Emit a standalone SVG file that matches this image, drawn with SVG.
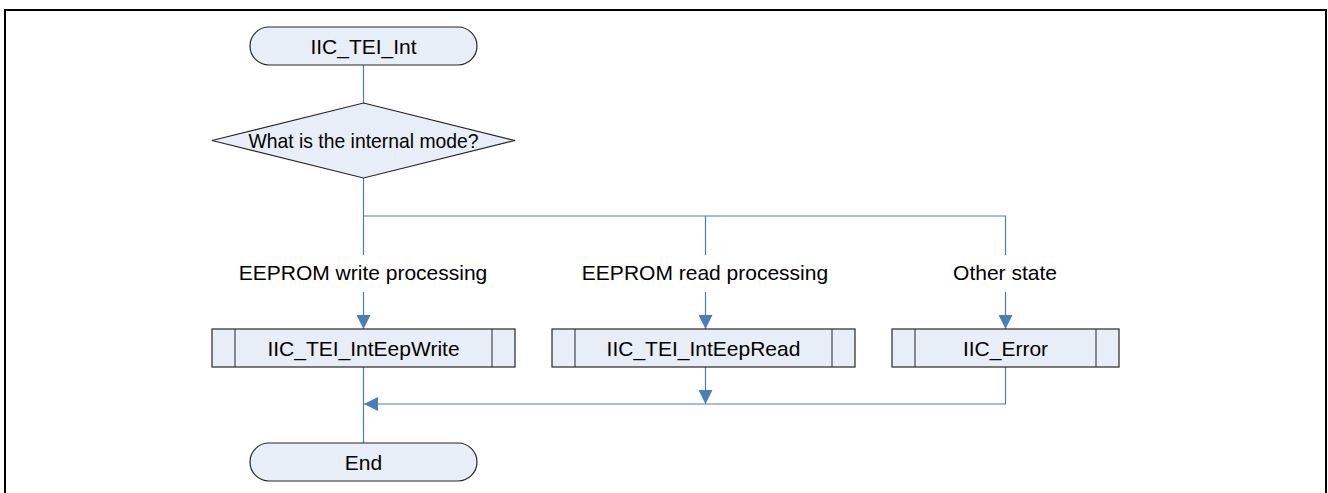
<svg xmlns="http://www.w3.org/2000/svg" width="1328" height="493" viewBox="0 0 1328 493">
<style>
.node{fill:#E8EEF7;stroke:#262626;stroke-width:1.2}
.bar{fill:none;stroke:#262626;stroke-width:1}
.conn{fill:none;stroke:#4A7EBB;stroke-width:1.2}
text{font-family:"Liberation Sans",Arial,sans-serif;font-size:21px;fill:#000;text-anchor:middle;dominant-baseline:central}
</style>
<defs>
<marker id="arr" viewBox="0 0 10 10" refX="10" refY="5" markerWidth="14" markerHeight="14" markerUnits="userSpaceOnUse" orient="auto">
<path d="M0,0 L10,5 L0,10 Z" fill="#4A7EBB"/>
</marker>
</defs>
<rect x="5" y="10" width="1321" height="500" fill="#fff" stroke="#000" stroke-width="2"/>
<g id="connectors">
<line class="conn" x1="363.5" y1="65" x2="363.5" y2="103"/>
<line class="conn" x1="363.5" y1="178" x2="363.5" y2="255"/>
<polyline class="conn" points="363.5,216 1005.5,216 1005.5,255"/>
<line class="conn" x1="705.5" y1="216" x2="705.5" y2="255"/>
<line class="conn" x1="363.5" y1="292" x2="363.5" y2="329" marker-end="url(#arr)"/>
<line class="conn" x1="705.5" y1="292" x2="705.5" y2="329" marker-end="url(#arr)"/>
<line class="conn" x1="1005.5" y1="292" x2="1005.5" y2="329" marker-end="url(#arr)"/>
<line class="conn" x1="363.5" y1="367" x2="363.5" y2="443"/>
<line class="conn" x1="705.5" y1="367" x2="705.5" y2="404" marker-end="url(#arr)"/>
<polyline class="conn" points="1005.5,367 1005.5,404 364,404" marker-end="url(#arr)"/>
<text x="363" y="272">EEPROM write processing</text>
<text x="705" y="272">EEPROM read processing</text>
<text x="1005" y="272">Other state</text>
</g>
<g id="start">
<rect class="node" x="250" y="27" width="227" height="38" rx="19" ry="19"/>
<text x="363.5" y="46">IIC_TEI_Int</text>
</g>
<g id="decision">
<polygon class="node" points="363.5,103 515,140.5 363.5,178 212,140.5"/>
<text x="363.5" y="140.5" textLength="230" lengthAdjust="spacingAndGlyphs">What is the internal mode?</text>
</g>
<g id="write">
<rect class="node" x="212" y="329" width="303" height="38"/>
<line class="bar" x1="235" y1="329" x2="235" y2="367"/>
<line class="bar" x1="492" y1="329" x2="492" y2="367"/>
<text x="363.5" y="348">IIC_TEI_IntEepWrite</text>
</g>
<g id="read">
<rect class="node" x="552" y="329" width="303" height="38"/>
<line class="bar" x1="575" y1="329" x2="575" y2="367"/>
<line class="bar" x1="832" y1="329" x2="832" y2="367"/>
<text x="703.5" y="348">IIC_TEI_IntEepRead</text>
</g>
<g id="error">
<rect class="node" x="892" y="329" width="227" height="38"/>
<line class="bar" x1="915" y1="329" x2="915" y2="367"/>
<line class="bar" x1="1096" y1="329" x2="1096" y2="367"/>
<text x="1005.5" y="348">IIC_Error</text>
</g>
<g id="end">
<rect class="node" x="250" y="443" width="227" height="38" rx="19" ry="19"/>
<text x="363.5" y="462">End</text>
</g>
</svg>
